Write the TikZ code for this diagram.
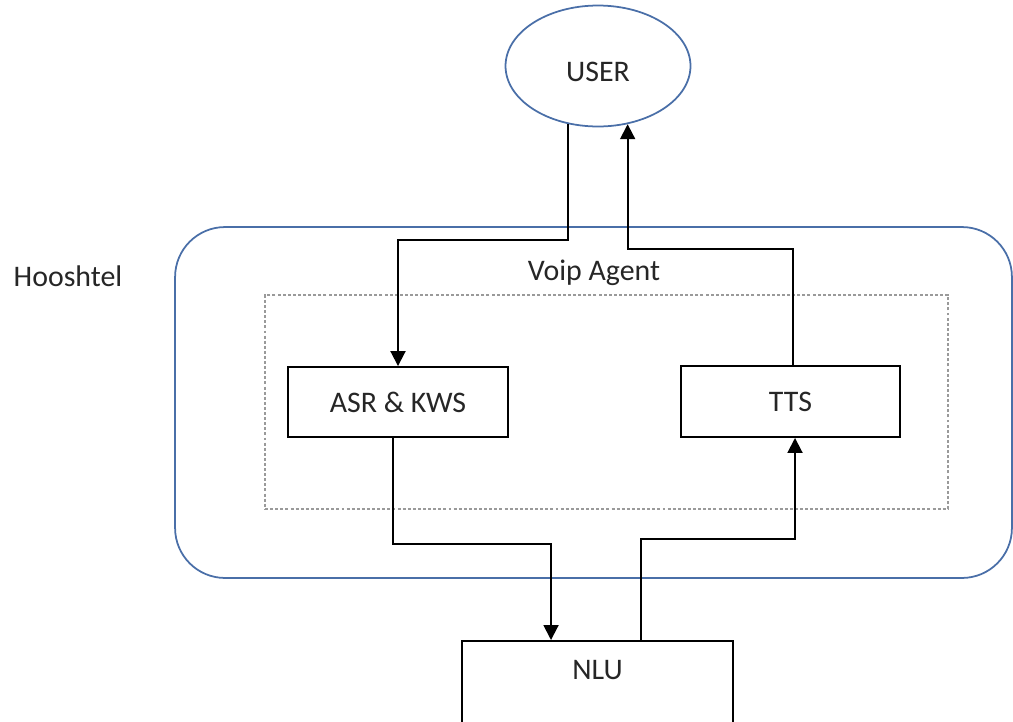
\documentclass[tikz,border=0pt]{standalone}
\usepackage{fontspec}
\setmainfont{Carlito}
\definecolor{FrameBlue}{HTML}{4A6FA8}
\definecolor{DotGray}{HTML}{9A9A9A}
\definecolor{InkGray}{HTML}{262626}
\usepackage{tikz}
\usetikzlibrary{arrows.meta, shapes.geometric}

\begin{document}
\begin{tikzpicture}[x=0.02cm, y=-0.02cm,
  every node/.style={font=\fontsize{17}{20}\selectfont, text=InkGray},
  usr/.style={ellipse, draw=FrameBlue, line width=1pt, minimum width=3.7cm, minimum height=2.42cm, inner sep=0pt},
  module/.style={rectangle, draw=black, line width=1.1pt, inner sep=0pt},
  flow/.style={-{Triangle[length=0.3cm, width=0.3cm]}, line width=1.1pt, black},
]
  \clip (0,0) rectangle (1013,721);
  % frames
  \node[rectangle, draw=FrameBlue, line width=1pt, rounded corners=1cm, minimum width=16.74cm, minimum height=7.02cm] (hoosh) at (593.5,402.5) {};
  \node[rectangle, draw=DotGray, line width=1pt, dash pattern=on 1.7pt off 1.2pt, minimum width=13.66cm, minimum height=4.28cm] (agent) at (606.5,402) {};
  \node (hooshlbl) at (68,276) {Hooshtel};
  \node (agentlbl) at (594,273) {Voip Agent};
  % blocks
  \node[usr, text height=0.64cm] (user) at (598,66) {USER};
  \node[module, minimum width=4.4cm, minimum height=1.4cm] (asr) at (398,402) {ASR \& KWS};
  \node[module, minimum width=4.38cm, minimum height=1.42cm] (tts) at (790.5,401.5) {TTS};
  \node[module, minimum width=5.42cm, minimum height=2.4cm, anchor=north, text height=0.38cm, text depth=1.22cm] (nlu) at (597.5,640) {NLU};
  % connectors
  \draw[flow] (user.-117) -- (user.-117 |- 0,240) -| (asr.north);
  \draw[flow] ([xshift=-0.1cm]asr.south) -- ++(0,106) -| ([xshift=-0.93cm]nlu.north);
  \draw[flow] ([xshift=0.87cm]nlu.north) -- ++(0,-101) -| ([xshift=0.09cm]tts.south);
  \draw[flow] ([xshift=0.05cm]tts.north) -- ++(0,-116) -| (user.-63);
\end{tikzpicture}
\end{document}
